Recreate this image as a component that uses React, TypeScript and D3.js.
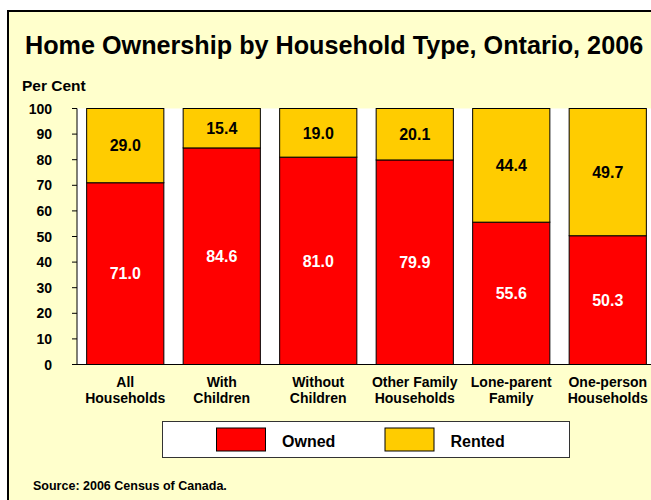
import React from "react";
import * as d3 from "d3";

const categories: string[][] = [
  ["All", "Households"],
  ["With", "Children"],
  ["Without", "Children"],
  ["Other Family", "Households"],
  ["Lone-parent", "Family"],
  ["One-person", "Households"],
];
const owned: number[] = [71.0, 84.6, 81.0, 79.9, 55.6, 50.3];
const rented: number[] = [29.0, 15.4, 19.0, 20.1, 44.4, 49.7];
const yTicks: number[] = [0, 10, 20, 30, 40, 50, 60, 70, 80, 90, 100];
const seriesNames: string[] = ["Owned", "Rented"];
const seriesColors: string[] = ["#FF0000", "#FFCC00"];

const FONT = "'Liberation Sans', Arial, Helvetica, sans-serif";

export default function App() {
  const W = 651;
  const H = 500;
  const plot = { left: 77, right: 656, top: 108.5, bottom: 364.5 };
  const x = d3
    .scaleBand<number>()
    .domain(categories.map((_, i) => i))
    .range([plot.left, plot.right])
    .paddingInner(0.2)
    .paddingOuter(0.1);
  const y = d3.scaleLinear().domain([0, 100]).range([plot.bottom, plot.top]);

  const stack = d3.stack<number>().keys(["0", "1"]).value((i, k) => (k === "0" ? owned[i] : rented[i]));
  const series = stack(categories.map((_, i) => i));

  return (
    <>
      <style>{"body{margin:0}"}</style>
      <svg width={W} height={H} style={{ display: "block", fontFamily: FONT }}>
        <rect x={0} y={0} width={W} height={H} fill="#ffffff" />
        <rect x={8} y={11} width={800} height={700} fill="#FFFFCC" stroke="#000" strokeWidth={2} />
        <text x={25} y={54} fontSize={25.2} fontWeight="bold" fill="#000">
          Home Ownership by Household Type, Ontario, 2006
        </text>
        <text x={22} y={90.5} fontSize={15.5} fontWeight="bold" fill="#000">
          Per Cent
        </text>
        <rect x={plot.left} y={plot.top} width={plot.right - plot.left} height={plot.bottom - plot.top} fill="#fff" />
        {series.map((s, si) =>
          s.map((d, i) => (
            <rect
              key={`${si}-${i}`}
              x={x(i)}
              y={y(d[1])}
              width={x.bandwidth()}
              height={y(d[0]) - y(d[1])}
              fill={seriesColors[si]}
              stroke="#000"
              strokeWidth={1}
            />
          ))
        )}
        {series.map((s, si) =>
          s.map((d, i) => (
            <text
              key={`l${si}-${i}`}
              x={(x(i) as number) + x.bandwidth() / 2}
              y={y((d[0] + d[1]) / 2)}
              dy="0.36em"
              textAnchor="middle"
              fontSize={16}
              fontWeight="bold"
              fill={si === 0 ? "#fff" : "#000"}
            >
              {(si === 0 ? owned[i] : rented[i]).toFixed(1)}
            </text>
          ))
        )}
        <line x1={plot.left} x2={plot.left} y1={plot.top} y2={plot.bottom} stroke="#000" strokeWidth={1} />
        <line x1={plot.left - 5} x2={plot.right} y1={plot.bottom} y2={plot.bottom} stroke="#000" strokeWidth={1} />
        {yTicks.map((t) => (
          <g key={t}>
            <line x1={plot.left - 5} x2={plot.left} y1={y(t)} y2={y(t)} stroke="#000" strokeWidth={1} />
            <text x={52} y={y(t)} dy="0.36em" textAnchor="end" fontSize={14} fontWeight="bold" fill="#000">
              {t}
            </text>
          </g>
        ))}
        {categories.map((c, i) => (
          <text
            key={i}
            x={(x(i) as number) + x.bandwidth() / 2}
            textAnchor="middle"
            fontSize={14}
            fontWeight="bold"
            fill="#000"
          >
            <tspan x={(x(i) as number) + x.bandwidth() / 2} y={386.5}>
              {c[0]}
            </tspan>
            <tspan x={(x(i) as number) + x.bandwidth() / 2} y={403}>
              {c[1]}
            </tspan>
          </text>
        ))}
        <rect x={162.5} y={421.5} width={407} height={36} fill="#fff" stroke="#333" strokeWidth={1} />
        {seriesNames.map((n, i) => (
          <g key={n} transform={`translate(${216.5 + i * 168.5},0)`}>
            <rect x={0} y={428} width={49} height={23} fill={seriesColors[i]} stroke="#000" strokeWidth={1} />
            <text x={65.5} y={446.5} fontSize={16} fontWeight="bold" fill="#000">
              {n}
            </text>
          </g>
        ))}
        <text x={33} y={490} fontSize={12.5} fontWeight="bold" fill="#000">
          Source: 2006 Census of Canada.
        </text>
      </svg>
    </>
  );
}
